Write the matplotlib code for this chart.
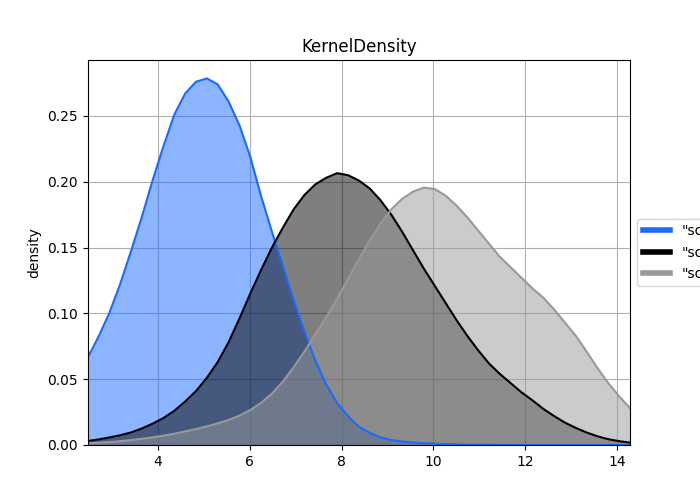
import numpy as np
import matplotlib
matplotlib.use("Agg")
import matplotlib.pyplot as plt
from matplotlib.lines import Line2D

# evaluation grid (x)
x_start = 2.47
x_step = 0.2362
n_points = 51

labels = ['"score_a"', '"score_b"', '"score_c"']
colours = ["#1a6aff", "#000000", "#999999"]

density_a = [0.066, 0.082, 0.100, 0.122, 0.147, 0.173, 0.201, 0.227, 0.251, 0.267,
             0.276, 0.2785, 0.274, 0.261, 0.243, 0.219, 0.189, 0.162, 0.136, 0.110,
             0.086, 0.064, 0.046, 0.032, 0.022, 0.0140, 0.0093, 0.0058, 0.0038, 0.0026,
             0.0019, 0.0014, 0.0010, 0.0007, 0.0005, 0.0003, 0.0002, 0.0002, 0.0001, 0.0001,
             0.0001, 0.0, 0.0, 0.0, 0.0, 0.0, 0.0, 0.0, 0.0, 0.0, 0.0]
density_b = [0.003, 0.0042, 0.0057, 0.0074, 0.0095, 0.0125, 0.0162, 0.0205, 0.026, 0.033,
             0.041, 0.051, 0.063, 0.078, 0.096, 0.115, 0.133, 0.150, 0.165, 0.179,
             0.190, 0.198, 0.203, 0.2065, 0.205, 0.201, 0.195, 0.186, 0.175, 0.162,
             0.148, 0.134, 0.121, 0.108, 0.095, 0.083, 0.072, 0.062, 0.054, 0.047,
             0.040, 0.034, 0.0275, 0.022, 0.017, 0.013, 0.0095, 0.0066, 0.0044, 0.0029,
             0.0018]
density_c = [0.0013, 0.0017, 0.0022, 0.0029, 0.0037, 0.0047, 0.0058, 0.0071, 0.0086, 0.0103,
             0.0121, 0.0141, 0.0164, 0.019, 0.0223, 0.0265, 0.032, 0.039, 0.048, 0.059,
             0.071, 0.084, 0.097, 0.111, 0.126, 0.141, 0.155, 0.168, 0.179, 0.187,
             0.1925, 0.1955, 0.1945, 0.1895, 0.182, 0.173, 0.163, 0.153, 0.143, 0.135,
             0.127, 0.119, 0.112, 0.103, 0.093, 0.083, 0.071, 0.0585, 0.047, 0.037,
             0.028]

xs = x_start + x_step * np.arange(n_points)

fig, ax = plt.subplots(figsize=(7, 5), dpi=100)
ax.set_axisbelow(True)
ax.grid(True)

for dens, c in zip([density_a, density_b, density_c], colours):
    ax.fill_between(xs, dens, color=c, alpha=0.5, linewidth=0)
    ax.plot(xs, dens, color=c, linewidth=1.5)

ax.set_xlim(xs[0], xs[-1])
ax.set_ylim(0, 0.2925)
ax.set_title("KernelDensity")
ax.set_ylabel("density")

handles = [Line2D([0], [0], color=c, linewidth=4) for c in colours]
ax.legend(handles, labels, loc="center left", bbox_to_anchor=(1, 0.5))

plt.savefig("out.png", dpi=100)
